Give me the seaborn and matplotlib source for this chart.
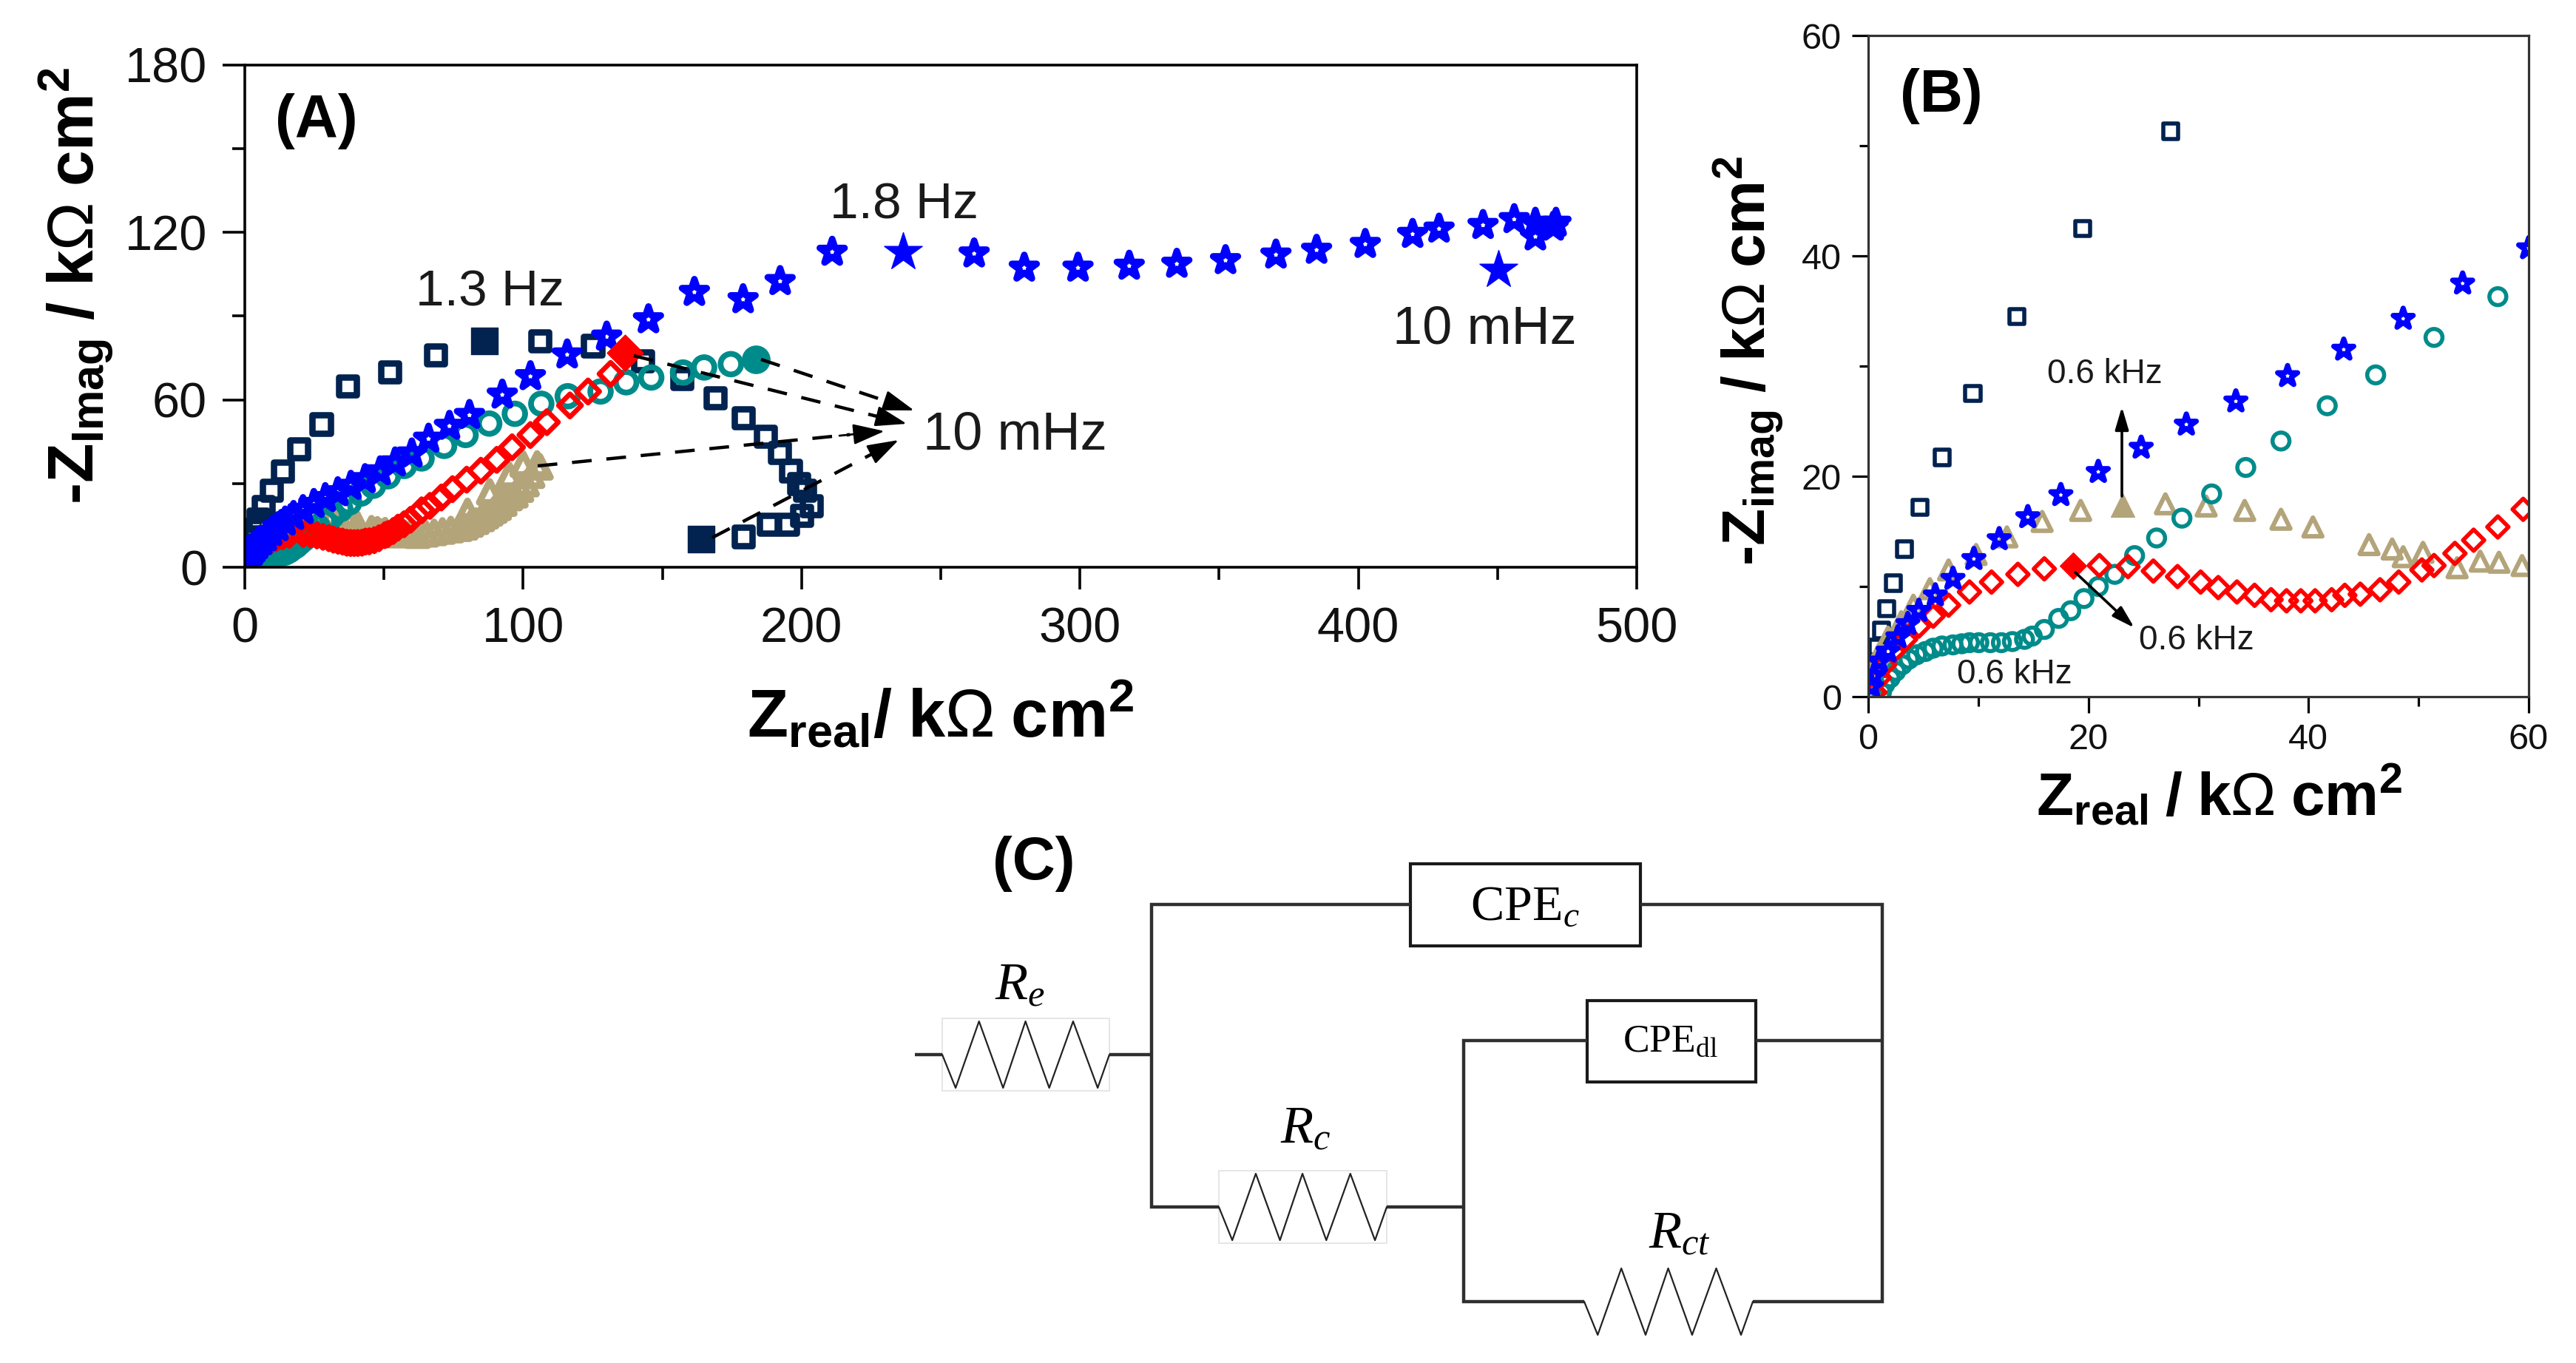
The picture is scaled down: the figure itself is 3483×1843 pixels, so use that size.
import matplotlib
matplotlib.use("Agg")
import matplotlib.pyplot as plt
from matplotlib.patches import Rectangle
import seaborn as sns

# ---------- data (kOhm cm2), ordered from high to low frequency ----------
navy_x = [0.4, 0.8, 1.2, 1.7, 2.3, 3.3, 4.7, 6.7, 9.5, 13.5, 19.5, 27.5, 37, 52, 68.5, 106, 125, 143, 157, 169, 179, 187, 192, 196, 199, 201, 203.5, 200, 195, 188, 179]
navy_y = [3, 4.5, 6, 8, 10.3, 13.4, 17.2, 21.7, 27.5, 34.5, 42.5, 51.3, 65, 70, 76, 81, 79.4, 74, 67.5, 60.7, 53.6, 47, 41, 34.6, 30, 27.5, 22, 18.6, 15.5, 15.5, 11]
tan_x = [0.5, 1, 1.8, 3, 4.1, 5.6, 7.3, 9.8, 12.6, 15.8, 19.3, 27, 30.7, 34.2, 37.5, 40.4, 45.5, 47.6, 48.6, 50.4, 53.5, 55.6, 57.3, 59.4, 62, 65, 68, 71, 74, 77, 79, 80, 81, 83, 85, 86.5, 88, 88, 89.5, 91, 92, 93, 95, 95, 97, 99, 100, 101, 103, 105, 106]
tan_y = [2.9, 3.9, 5.4, 6.8, 8.3, 9.8, 11.5, 12.9, 14.5, 15.9, 16.9, 17.5, 17.3, 16.9, 16.1, 15.4, 13.8, 13.4, 12.7, 13.1, 11.7, 12.3, 12.2, 11.9, 11.5, 12, 12.5, 13, 13.5, 14, 14.5, 20, 15.5, 16.5, 17.5, 18.5, 19.5, 27, 20.5, 21.5, 25, 23, 25, 33, 26, 28, 37, 30, 33, 37, 36]
teal_x = [1.2, 1.5, 2, 2.5, 3.1, 3.7, 4.4, 5.2, 5.9, 6.7, 7.7, 8.5, 9.2, 10.05, 11.1, 12.1, 13.1, 14.2, 14.9, 16, 17.3, 18.4, 19.6, 20.9, 22.4, 24.2, 26.2, 28.5, 31.2, 34.3, 37.5, 41.7, 46.1, 51.4, 57.2, 63.5, 71.6, 79.3, 87.8, 97, 106.5, 116, 127.8, 137, 146, 157.4, 165, 174.6]
teal_y = [0.4, 1.1, 1.7, 2.3, 2.9, 3.4, 3.8, 4.1, 4.4, 4.6, 4.7, 4.8, 4.9, 4.9, 4.9, 4.9, 5, 5.2, 5.5, 6.1, 7.1, 7.8, 8.9, 10, 11.1, 12.8, 14.4, 16.2, 18.4, 20.8, 23.2, 26.4, 29.2, 32.6, 36.3, 39, 43.5, 47.4, 51.5, 55, 58.6, 61.3, 63, 66.3, 68, 69.8, 71.6, 72.8]
star_x = [0.3, 0.5, 1, 1.8, 2.7, 3.6, 4.6, 6.1, 7.7, 9.6, 11.9, 14.5, 17.5, 20.9, 24.8, 28.9, 33.4, 38.1, 43.2, 48.6, 54, 60, 66, 73.5, 80.7, 92.5, 102.6, 115.8, 130, 145, 161.5, 179, 192.3, 211, 262, 280, 299.3, 317.7, 334.8, 352.3, 370.4, 385, 402.5, 419.5, 429, 444.8, 456, 463.6, 471, 470, 463.6]
star_y = [0.9, 1.9, 3.2, 4.1, 5.4, 6.6, 7.8, 9.2, 10.7, 12.5, 14.3, 16.3, 18.3, 20.4, 22.6, 24.7, 26.8, 29.1, 31.5, 34.3, 37.5, 40.7, 46, 50.6, 54.5, 61.8, 68.4, 76.2, 82.6, 88.8, 98.6, 96, 102.5, 113, 112.4, 107.3, 107.3, 108, 108.7, 110, 112, 113.7, 115.8, 119.4, 121.3, 122.6, 124.7, 123.4, 123.4, 122, 118.5]
red_x = [0.6, 1, 1.5, 2.3, 3.4, 4.6, 5.9, 7.3, 9.2, 11.2, 13.6, 16, 21, 23.6, 25.9, 28.1, 30.2, 31.8, 33.5, 35.1, 36.6, 38, 39.3, 40.6, 42.1, 43.3, 44.7, 46.5, 48.2, 50.3, 51.4, 53.3, 55, 57.2, 59.5, 63.5, 66.5, 70.6, 74.6, 79.7, 84.8, 90.5, 96, 102.6, 108.5, 116.8, 123.3, 131.4]
red_y = [0.4, 1.7, 2.9, 4.1, 5.2, 6.4, 7.3, 8.3, 9.5, 10.4, 11.1, 11.6, 11.9, 11.8, 11.4, 10.9, 10.4, 9.9, 9.5, 9.2, 8.8, 8.7, 8.7, 8.7, 8.8, 9.2, 9.3, 9.7, 10.4, 11.5, 11.9, 13, 14.2, 15.4, 17, 20.4, 22, 25, 28, 31.4, 34.6, 38.5, 43, 47.4, 52, 58, 63, 69.3]

# points with a filled symbol: low-frequency end and apex, then 0.6 kHz
navy_end_x, navy_end_y = [86, 164], [81, 10]
star_end_x, star_end_y = [236.4, 450.3], [113, 106.6]
teal_end_x, teal_end_y = [183.6], [74.6]
red_end_x, red_end_y = [136.5], [77]
tan_kHz_x, tan_kHz_y = [23.1], [17.4]
red_kHz_x, red_kHz_y = [18.6], [11.9]

xticks_a, yticks_a = [0, 100, 200, 300, 400, 500], [0, 60, 120, 180]
ticks_b = [0, 20, 40, 60]

NAVY, TAN, TEAL, BLUE, RED = "#02224f", "#b3a47a", "#008b8b", "#0000ff", "#ff0000"
W, H = 3483, 1843

sns.set_theme(style="ticks")
plt.rcParams.update({
    "font.family": ["Liberation Sans", "DejaVu Sans"],
    "mathtext.fontset": "custom",
    "mathtext.bf": "Liberation Sans:bold",
    "mathtext.sf": "Liberation Sans",
    "mathtext.rm": "Liberation Serif",
    "mathtext.it": "Liberation Serif:italic",
    "text.color": "black",
})

fig = plt.figure(figsize=(W / 100, H / 100), dpi=100, facecolor="white")


def make_axes(l, t, r, b):
    return fig.add_axes([l / W, 1 - b / H, (r - l) / W, (b - t) / H])


def hollow(ax, x, y, marker, s, lw, col):
    sns.scatterplot(x=x, y=y, marker=marker, s=s, facecolor="none", edgecolor=col, linewidth=lw, ax=ax, legend=False)


def solid(ax, x, y, marker, s, col):
    sns.scatterplot(x=x, y=y, marker=marker, s=s, color=col, edgecolor=col, linewidth=1, ax=ax, legend=False)


def style(ax, xt, yt, xm, ym, xlim, ylim, fs, major, minor, lw, pad_x, pad_y, col):
    ax.set_xlim(*xlim)
    ax.set_ylim(*ylim)
    ax.set_xticks(xt)
    ax.set_yticks(yt)
    ax.set_xticks(xm, minor=True)
    ax.set_yticks(ym, minor=True)
    ax.set_xlabel("")
    ax.set_ylabel("")
    ax.tick_params(which="major", direction="out", length=major, width=lw, color="black", labelsize=fs, labelcolor="#111111")
    ax.tick_params(which="minor", direction="out", length=minor, width=lw, color="black")
    ax.tick_params(axis="x", which="major", pad=pad_x)
    ax.tick_params(axis="y", which="major", pad=pad_y)
    for sp in ax.spines.values():
        sp.set_visible(True)
        sp.set_linewidth(lw)
        sp.set_color(col)
    ax.patch.set_alpha(0)


# ---------- panel A ----------
axA = make_axes(331, 88, 2213, 767)
hollow(axA, navy_x, navy_y, "s", 300, 6.2, NAVY)
solid(axA, navy_end_x, navy_end_y, "s", 700, NAVY)
hollow(axA, tan_x, tan_y, "^", 420, 6.5, TAN)
hollow(axA, teal_x, teal_y, "o", 400, 5.6, TEAL)
solid(axA, teal_end_x, teal_end_y, "o", 720, TEAL)
hollow(axA, red_x, red_y, "D", 250, 4.8, RED)
hollow(axA, star_x, star_y, "*", 640, 6.4, BLUE)
solid(axA, star_end_x, star_end_y, "*", 1500, BLUE)
solid(axA, red_end_x, red_end_y, "D", 620, RED)
style(axA, xticks_a, yticks_a, [50, 150, 250, 350, 450], [30, 90, 150], (0, 500), (0, 180), 48, 21.6, 12, 2.6, 17, 15, "black")

# ---------- panel B ----------
axB = make_axes(2526, 48, 3419, 942)
hollow(axB, navy_x, navy_y, "s", 215, 4, NAVY)
hollow(axB, tan_x, tan_y, "^", 330, 4.4, TAN)
solid(axB, tan_kHz_x, tan_kHz_y, "^", 520, TAN)
hollow(axB, teal_x, teal_y, "o", 270, 4, TEAL)
hollow(axB, red_x, red_y, "D", 215, 4, RED)
solid(axB, red_kHz_x, red_kHz_y, "D", 330, RED)
hollow(axB, star_x, star_y, "*", 420, 5, BLUE)
style(axB, ticks_b, ticks_b, [10, 30, 50], [10, 30, 50], (0, 60), (0, 60), 35, 16, 9, 2.3, 10, 10, "#333333")

# ---------- overlay in pixel coordinates ----------
ov = fig.add_axes([0, 0, 1, 1], zorder=10)
ov.set_xlim(0, W)
ov.set_ylim(H, 0)
ov.axis("off")
ov.patch.set_alpha(0)


def txt(x, y, s, fs, **kw):
    kw.setdefault("ha", "center")
    kw.setdefault("va", "center")
    return ov.text(x, y, s, fontsize=fs, **kw)


txt(428, 164, "(A)", 58, fontweight="bold")
txt(2625, 130, "(B)", 58, fontweight="bold")
txt(1398, 1168, "(C)", 58, fontweight="bold")
txt(662, 396, "1.3 Hz", 50, color="#1a1a1a")
txt(1222, 277, "1.8 Hz", 50, color="#1a1a1a")
txt(2007, 446, "10 mHz", 52, color="#1a1a1a")
txt(1372, 589, "10 mHz", 52, color="#1a1a1a")
txt(2846, 506, "0.6 kHz", 33, color="#1a1a1a")
txt(2970, 866, "0.6 kHz", 33, color="#1a1a1a")
txt(2724, 912, "0.6 kHz", 33, color="#1a1a1a")

txt(1271, 968, r"$\mathbf{Z_{real}/\ k}\mathsf{Ω}\mathbf{\ cm^2}$", 65)
txt(104, 386, r"-$\mathbf{Z_{Imag}\ /\ k}\mathsf{Ω}\mathbf{\ cm^2}$", 63, rotation=90, fontweight="bold")
txt(3000, 1076, r"$\mathbf{Z_{real}\ /\ k}\mathsf{Ω}\mathbf{\ cm^2}$", 59)
txt(2365, 488, r"-$\mathbf{Z_{imag}\ /\ k}\mathsf{Ω}\mathbf{\ cm^2}$", 59, rotation=90, fontweight="bold")

# dashed arrows to the 10 mHz label, panel A
for (x0, y0, x1, y1) in [(1029, 486, 1236, 555), (857, 481, 1226, 573), (727, 630, 1196, 583), (963, 727, 1215, 595)]:
    f = 0.9
    xm, ym = x0 + (x1 - x0) * f, y0 + (y1 - y0) * f
    ov.plot([x0, xm], [y0, ym], color="black", lw=3.2, ls=(0, (6, 4.5)), solid_capstyle="butt")
    ov.annotate("", xy=(x1, y1), xytext=(x1 - (x1 - x0) * 0.13, y1 - (y1 - y0) * 0.13),
                arrowprops=dict(arrowstyle="-|>,head_length=1.1,head_width=0.36", color="black", lw=2, shrinkA=0, shrinkB=0, mutation_scale=24))

# solid arrows, panel B
for (x0, y0, x1, y1) in [(2869, 671, 2869, 550), (2806, 774, 2886, 849)]:
    ov.annotate("", xy=(x1, y1), xytext=(x0, y0),
                arrowprops=dict(arrowstyle="-|>,head_length=0.85,head_width=0.25", color="black", lw=2.6, shrinkA=0, shrinkB=0, mutation_scale=22))

# ---------- panel C: equivalent circuit ----------
WIRE = dict(color="#2f2f2f", lw=3.2, solid_capstyle="butt", solid_joinstyle="miter")
ZIG = [(0, 0), (.08, 1), (.22, -1), (.364, 1), (.498, -1), (.64, 1), (.783, -1), (.93, 1), (1, 0)]


def resistor(x0, x1, y, amp, box=True):
    if box:
        ov.add_patch(Rectangle((x0, y - amp - 4), x1 - x0, 2 * amp + 8, fc="white", ec="#e6e6e6", lw=1.4))
    ov.plot([x0 + (x1 - x0) * a for a, b in ZIG], [y + b * amp for a, b in ZIG], color="#222222", lw=1.6)


def wire(xs, ys):
    ov.plot(xs, ys, **WIRE)


wire([1237, 1274], [1426, 1426])
resistor(1274, 1500, 1426, 45)
wire([1500, 1557], [1426, 1426])
wire([1907, 1557, 1557, 1648], [1223, 1223, 1632, 1632])
wire([2218, 2545, 2545, 2370], [1223, 1223, 1760, 1760])
resistor(1648, 1875, 1632, 45)
wire([1875, 1979], [1632, 1632])
wire([2146, 1979, 1979, 2142], [1407, 1407, 1760, 1760])
wire([2374, 2545], [1407, 1407])
resistor(2142, 2370, 1760, 45, box=False)
ov.add_patch(Rectangle((1907, 1168), 311, 111, fc="white", ec="#1a1a1a", lw=3))
ov.add_patch(Rectangle((2146, 1353), 228, 110, fc="white", ec="#1a1a1a", lw=3))
txt(2062, 1226, r"$\mathrm{CPE}_{\mathit{c}}$", 49)
txt(2258, 1408, r"$\mathrm{CPE}_{\mathrm{dl}}$", 38.5)
txt(1379, 1333, r"$\mathit{R}_{\mathit{e}}$", 52)
txt(1765, 1527, r"$\mathit{R}_{\mathit{c}}$", 52)
txt(2271, 1669, r"$\mathit{R}_{\mathit{ct}}$", 52)

fig.savefig("out.png", dpi=100, facecolor="white")
